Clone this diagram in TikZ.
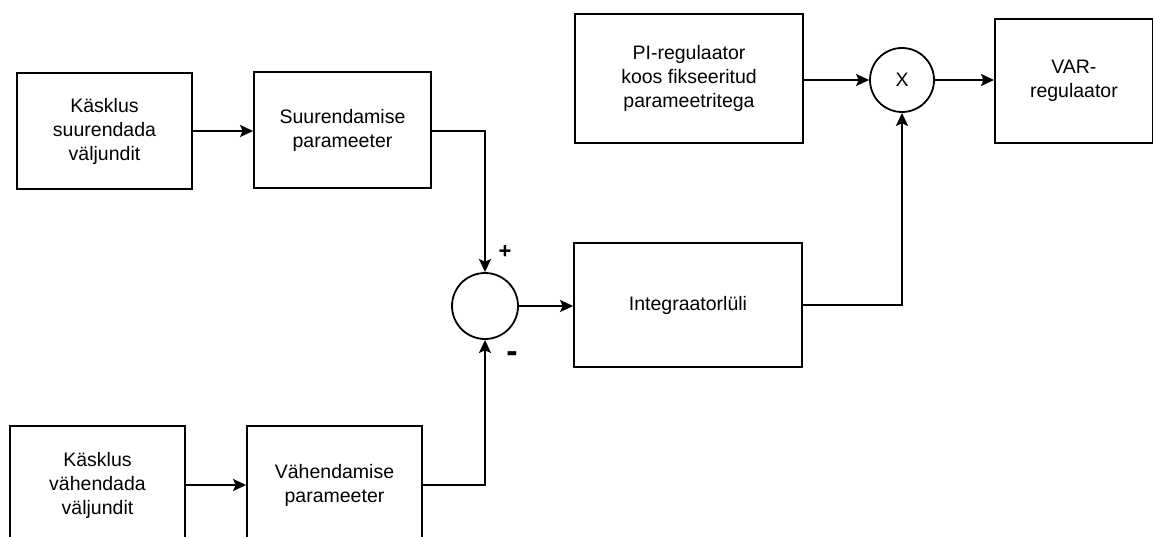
\documentclass[tikz,border=0pt]{standalone}
\usepackage{fontspec}
\setmainfont{Liberation Sans}
\usetikzlibrary{arrows.meta}
\begin{document}
\begin{tikzpicture}[x=1pt,y=-1pt,
  every node/.style={font=\fontsize{19.5pt}{24pt}\selectfont, align=center},
  blk/.style={draw, line width=1.8pt, rectangle, inner sep=0pt},
  junction/.style={draw, line width=1.8pt, circle, inner sep=0pt},
  flow/.style={line width=1.8pt, -{Stealth[length=13pt,width=12pt,inset=2.5pt]}},
  sign/.style={font=\fontsize{22pt}{24pt}\selectfont\bfseries}]
\useasboundingbox (0,0) rectangle (1153,537);
\clip (0,0) rectangle (1153,537);
\fill[white] (0,0) rectangle (1153,537);

% input command blocks
\node[blk, minimum width=175pt, minimum height=116pt] (inc) at (104.5,131) {Käsklus\\suurendada\\väljundit};
\node[blk, minimum width=177pt, minimum height=116pt] (incpar) at (342.5,130) {Suurendamise\\parameeter};
\node[blk, minimum width=175pt, minimum height=118pt] (dec) at (97.5,485) {Käsklus\\vähendada\\väljundit};
\node[blk, minimum width=175pt, minimum height=118pt] (decpar) at (334.5,485) {Vähendamise\\parameeter};

% summing junction and integrator
\node[junction, minimum size=66pt] (sum) at (485,306) {};
\node[blk, minimum width=228pt, minimum height=124pt] (integ) at (688,305) {Integraatorlüli};

% upper chain
\node[blk, minimum width=228pt, minimum height=129pt] (pi) at (689,78.5) {PI-regulaator\\koos fikseeritud\\parameetritega};
\node[junction, minimum size=64pt] (mul) at (902,80) {X};
\node[blk, minimum width=158pt, minimum height=124pt, anchor=west] (var) at (994,81) {VAR-\\regulaator};

% connections
\draw[flow] (inc.east |- 0,131) -- (incpar.west |- 0,131);
\draw[flow] (incpar.east |- 0,131) -| (sum.north);
\draw[flow] (dec.east |- 0,485) -- (decpar.west |- 0,485);
\draw[flow] (decpar.east |- 0,485) -| (sum.south);
\draw[flow] (sum.east) -- (integ.west |- sum.east);
\draw[flow] (integ.east |- 0,305) -| (mul.south);
\draw[flow] (pi.east |- mul.west) -- (mul.west);
\draw[flow] (mul.east) -- (var.west |- mul.east);

% signs at the summing junction
\node[sign] (plus) at (505,252) {+};
\node[sign, font=\fontsize{34pt}{34pt}\selectfont\bfseries] (minus) at (512,357) {-};
\end{tikzpicture}
\end{document}
